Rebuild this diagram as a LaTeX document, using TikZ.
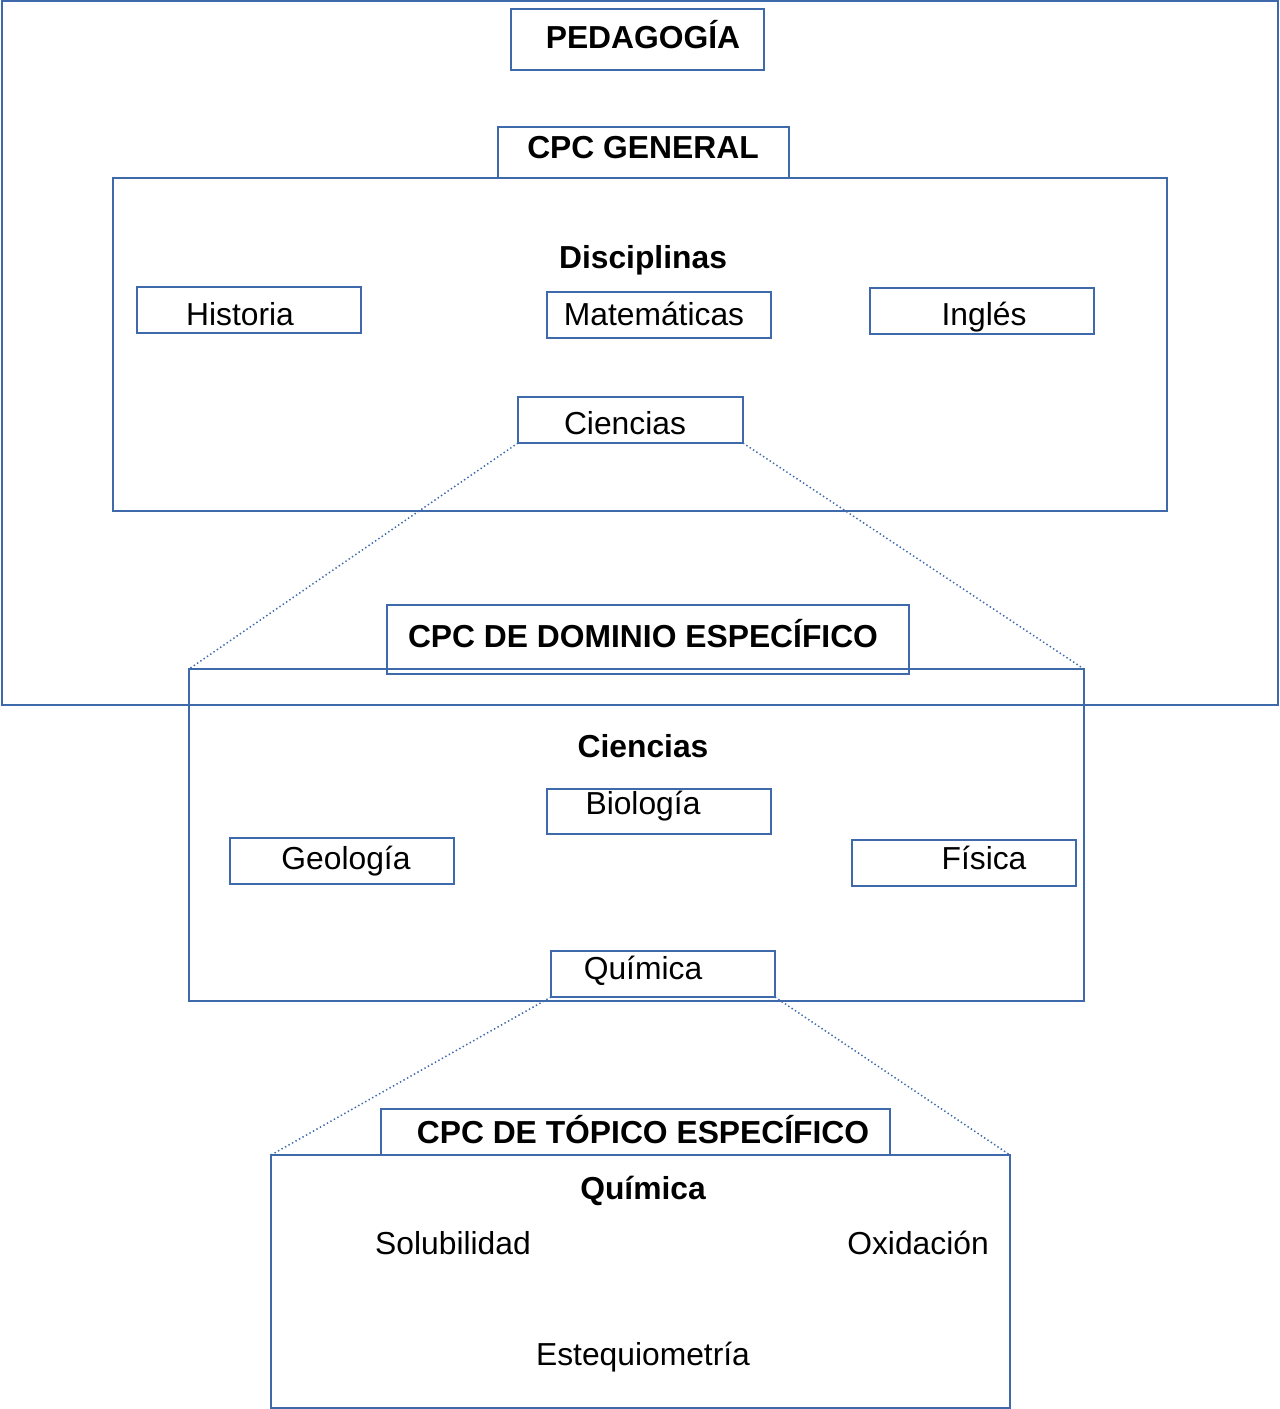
\documentclass[tikz,border=0pt]{standalone}
\usepackage{fontspec}
\setmainfont{Liberation Sans}
\usetikzlibrary{fit}
\definecolor{boxblue}{RGB}{62,106,172}
\begin{document}
\begin{tikzpicture}[x=0.5pt,y=-0.5pt,
  frame/.style={draw=boxblue,line width=1pt,inner sep=0pt,outer sep=0pt},
  txt/.style={inner sep=0pt,anchor=base,font=\fontsize{15.9}{19}\selectfont},
  head/.style={txt,font=\fontsize{15.9}{19}\selectfont\bfseries},
  zoomline/.style={draw=boxblue,line width=0.75pt,dash pattern=on 0.7pt off 1.3pt}]
\useasboundingbox (0,0) rectangle (1280,1409);

% outer frame: pedagogy
\node[frame,fit={(2,1)(1278,705)}] (outer) {};
\node[frame,fit={(511,9)(764,70)}] (pedbox) {};
\node[head] (ped) at (643,48) {PEDAGOGÍA};

% general PCK with the disciplines
\node[frame,fit={(498,127)(789,178)}] (genbox) {};
\node[head] (gen) at (643,158) {CPC GENERAL};
\node[frame,fit={(113,178)(1167,511)}] (disc) {};
\node[head] (disctitle) at (643,268) {Disciplinas};

\node[frame,fit={(137,287)(361,333)}] (histbox) {};
\node[txt] (hist) at (240,325) {Historia};
\node[frame,fit={(547,292)(771,338)}] (matbox) {};
\node[txt] (mat) at (654,325) {Matemáticas};
\node[frame,fit={(870,288)(1094,334)}] (ingbox) {};
\node[txt] (ing) at (984,325) {Inglés};
\node[frame,fit={(518,397)(743,443)}] (cienbox) {};
\node[txt] (cien) at (625,434) {Ciencias};

% domain-specific PCK
\node[frame,fit={(189,669)(1084,1001)}] (dom) {};
\node[frame,fit={(387,605)(909,674)}] (dombox) {};
\node[head] (domtitle) at (643,647) {CPC DE DOMINIO ESPECÍFICO};
\node[head] (domsub) at (643,757) {Ciencias};

\node[frame,fit={(547,789)(771,834)}] (biobox) {};
\node[txt] (bio) at (643,814) {Biología};
\node[frame,fit={(230,838)(454,884)}] (geobox) {};
\node[txt] (geo) at (346,869) {Geología};
\node[frame,fit={(852,840)(1076,886)}] (fisbox) {};
\node[txt] (fis) at (984,869) {Física};
\node[frame,fit={(551,951)(775,997)}] (quimbox) {};
\node[txt] (quim) at (643,979) {Química};

% topic-specific PCK
\node[frame,fit={(271,1155)(1010,1408)}] (top) {};
\node[frame,fit={(381,1109)(890,1155)}] (topbox) {};
\node[head] (toptitle) at (643,1143) {CPC DE TÓPICO ESPECÍFICO};
\node[head] (topsub) at (643,1199) {Química};
\node[txt] (sol) at (453,1254) {Solubilidad};
\node[txt] (oxi) at (918,1254) {Oxidación};
\node[txt] (est) at (643,1365) {Estequiometría};

% zoom-in connectors
\draw[zoomline] (cienbox.south west) -- (dom.north west);
\draw[zoomline] (cienbox.south east) -- (dom.north east);
\draw[zoomline] (quimbox.south west) -- (top.north west);
\draw[zoomline] (quimbox.south east) -- (top.north east);
\end{tikzpicture}
\end{document}
